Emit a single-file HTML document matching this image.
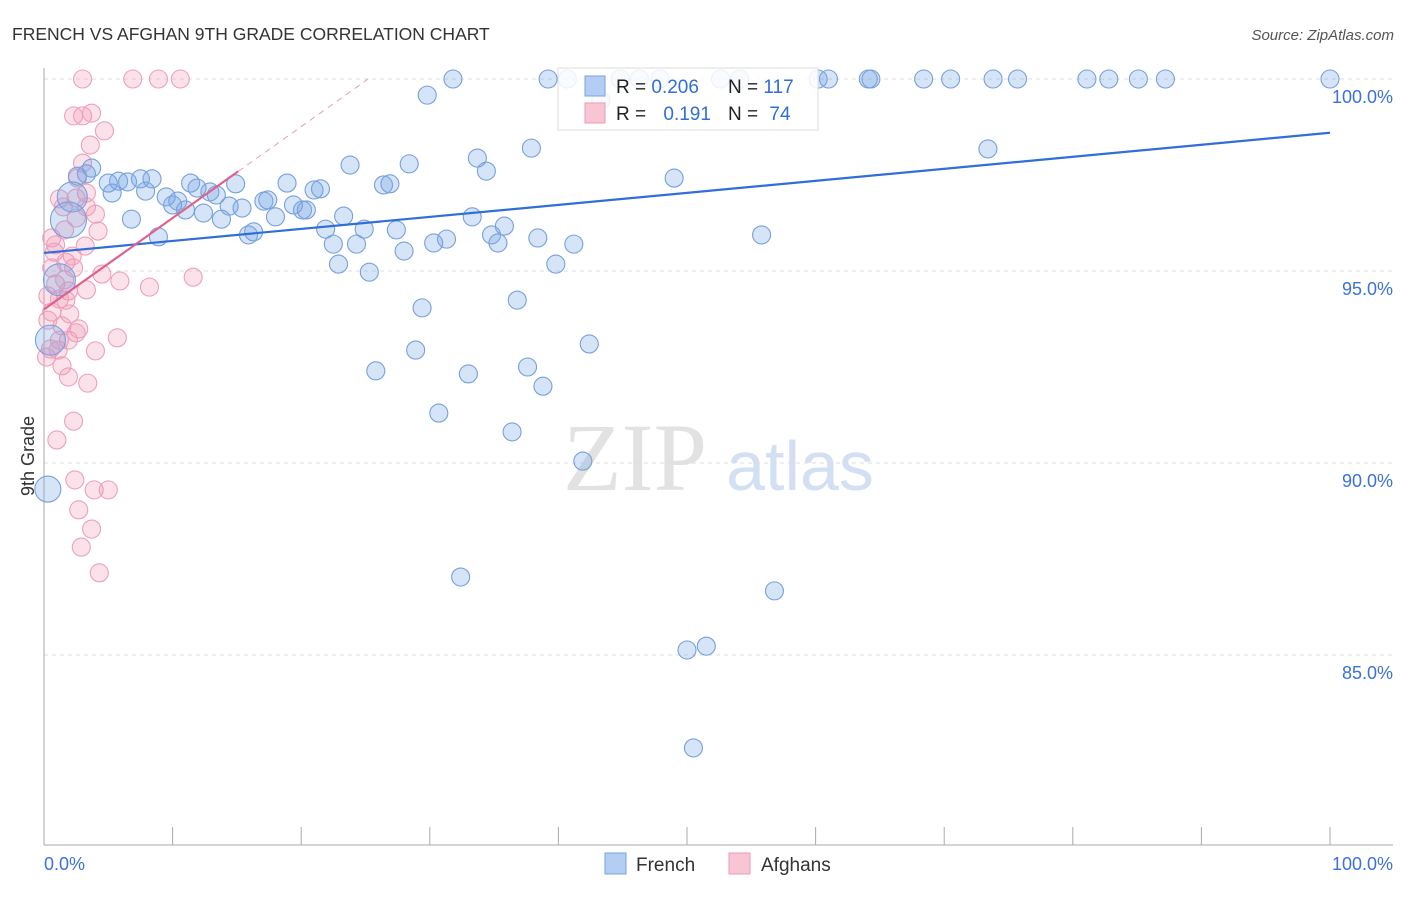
<!DOCTYPE html>
<html><head><meta charset="utf-8"><style>
body{margin:0;background:#fff;font-family:"Liberation Sans",sans-serif}
svg text{font-family:"Liberation Sans",sans-serif}
</style></head><body>
<svg id="chart" width="1406" height="892">
<text x="12" y="40" font-size="17.5" fill="#333">FRENCH VS AFGHAN 9TH GRADE CORRELATION CHART</text>
<text x="1394" y="40" font-size="15" fill="#555" text-anchor="end" font-style="italic">Source: ZipAtlas.com</text>
<g><text x="635" y="490" font-size="96" fill="#e2e2e2" text-anchor="middle" font-family="Liberation Serif" style="font-family:'Liberation Serif',serif">ZIP</text><text x="800" y="490" font-size="70" fill="#d3e0f4" text-anchor="middle">atlas</text></g>
<g id="grid"></g>
<g id="axes"></g>
<g id="afg"></g>
<g id="fr"></g>
<g id="lines"></g>
<text x="34" y="456" font-size="18" fill="#333" text-anchor="middle" transform="rotate(-90 34 456)">9th Grade</text>
<g>
<rect x="558" y="68" width="260" height="62" fill="#fff" fill-opacity="0.85" stroke="#ddd"/>
<rect x="585" y="76" width="20" height="20" fill="#b3cdf3" stroke="#7aa3e0"/>
<rect x="585" y="103" width="20" height="20" fill="#f8c5d5" stroke="#ec9ab5"/>
<text x="616" y="93" font-size="19" fill="#222">R = <tspan fill="#2f6fd6">0.206</tspan></text>
<text x="728" y="93" font-size="19" fill="#222">N = <tspan fill="#2f6fd6">117</tspan></text>
<text x="616" y="120" font-size="19" fill="#222">R = <tspan fill="#2f6fd6" dx="12">0.191</tspan></text>
<text x="728" y="120" font-size="19" fill="#222">N = <tspan fill="#2f6fd6" dx="6">74</tspan></text>
</g>
<g><rect x="605" y="853" width="21" height="21" fill="#b3cdf3" stroke="#7aa3e0"/><text x="636" y="871" font-size="19" fill="#333">French</text></g>
<g><rect x="729" y="853" width="21" height="21" fill="#f8c5d5" stroke="#ec9ab5"/><text x="761" y="871" font-size="19" fill="#333">Afghans</text></g>
</svg>
<script>
const yTicks=[100,95,90,85];
const yTickLabels=["100.0%","95.0%","90.0%","85.0%"];
const xTickLabels=["0.0%","100.0%"];
const frX=[31.8,39.2,40.7,44.8,46.3,47.9,52.6,54.1,60.2,61.0,64.1,64.3,68.4,70.5,73.8,75.7,81.1,82.8,85.1,87.2,100,42.8,29.8,43.3,37.9,73.4,33.7,23.8,28.4,3.7,3.3,2.6,34.4,49.0,8.4,5.8,6.5,7.5,5.0,11.4,14.9,18.9,26.4,26.9,11.9,21.0,21.5,7.9,5.3,12.9,9.5,13.4,10.4,10.0,14.4,17.1,17.4,19.4,20.1,20.4,15.4,12.4,11.0,6.8,18.0,13.8,23.3,33.3,35.8,21.9,24.9,27.4,34.8,8.9,15.9,16.3,31.3,38.4,30.3,22.5,24.3,35.3,41.2,55.8,28.0,22.9,39.8,25.3,36.8,29.4,42.4,28.9,37.6,25.8,33.0,38.8,30.7,36.4,41.9,32.4,56.8,50.0,51.5,50.5];
const frY=[100,100,100,100,100,100,100,100,100,100,100,100,100,100,100,100,100,100,100,100,100,99.84,99.58,99.45,98.2,98.18,97.94,97.76,97.79,97.68,97.53,97.47,97.6,97.42,97.4,97.34,97.32,97.4,97.29,97.29,97.27,97.29,97.24,97.27,97.16,97.11,97.14,97.08,97.03,97.06,96.93,96.98,96.82,96.72,96.69,96.82,96.85,96.72,96.59,96.59,96.64,96.51,96.59,96.35,96.41,96.35,96.43,96.41,96.17,96.09,96.09,96.07,95.94,95.89,95.94,96.02,95.83,95.86,95.73,95.7,95.7,95.73,95.7,95.94,95.52,95.18,95.18,94.97,94.24,94.04,93.1,92.94,92.5,92.4,92.32,92.0,91.3,90.81,90.05,87.03,86.67,85.13,85.23,82.58];
const frBigX=[1.9,2.2,1.2,0.5,0.3];
const frBigY=[96.33,96.93,94.77,93.2,89.32];
const frBigR=[18,15,16,15,13];
const afX=[3.0,6.9,8.9,10.6,2.3,3.0,3.7,4.7,3.6,3.0,2.6,3.3,2.5,1.2,1.5,3.3,4.0,2.5,4.2,1.6,0.6,0.9,3.2,0.8,1.7,0.6,2.3,4.5,5.9,8.2,11.6,0.9,1.9,3.3,0.3,1.2,0.6,2.0,2.7,1.4,5.7,1.9,1.2,0.5,2.5,4.0,0.2,1.4,1.9,3.4,2.3,1.0,2.4,3.9,5.0,2.7,3.7,2.9,4.3,0.3,1.7,2.2,1.1,1.6];
const afY=[100,100,100,100,99.04,99.04,99.11,98.65,98.28,97.81,97.42,97.03,96.9,96.88,96.67,96.67,96.48,96.38,96.04,96.07,95.86,95.68,95.65,95.49,95.23,95.08,95.08,94.92,94.74,94.58,94.84,94.66,94.48,94.51,94.35,94.27,93.93,93.88,93.49,93.57,93.26,93.2,93.2,92.97,93.39,92.92,92.76,92.53,92.24,92.08,91.09,90.6,89.56,89.3,89.3,88.78,88.28,87.81,87.14,93.72,94.24,95.39,92.94,94.77];
const frLine=[95.47,0.0313];
const afLine=[94.0,0.238];
const NS="http://www.w3.org/2000/svg";
const X0=44,X1=1330,Y100=79,PPY=38.4;
const sx=v=>X0+(X1-X0)*v/100;
const sy=v=>Y100+(100-v)*PPY;
function mk(tag,attrs,parent){const e=document.createElementNS(NS,tag);for(const k in attrs)e.setAttribute(k,attrs[k]);parent.appendChild(e);return e;}
const grid=document.getElementById('grid'),axes=document.getElementById('axes');
yTicks.forEach((t,i)=>{
 const l=mk('line',{x1:44,x2:1393,y1:sy(t),y2:sy(t),stroke:'#ddd','stroke-dasharray':'4,4'},grid);
 
 
 const tx=mk('text',{x:1393,y:sy(t)+24,'font-size':18,fill:'#3a72d8','text-anchor':'end'},axes);
 tx.textContent=yTickLabels[i];
 
 
});
mk('line',{x1:44,x2:44,y1:68,y2:845,stroke:'#aaa'},axes);
mk('line',{x1:44,x2:1393,y1:845,y2:845,stroke:'#aaa'},axes);
for(let i=1;i<=10;i++){const t=mk('line',{x1:sx(i*10),x2:sx(i*10),y1:827,y2:845,stroke:'#aaa'},axes);
 
 }
[[0,'start',44],[100,'end',1393]].forEach((d,i)=>{const t=mk('text',{x:d[2],y:870,'font-size':18,fill:'#3a72d8','text-anchor':d[1]},axes);t.textContent=xTickLabels[i];
 
 });
const afg=document.getElementById('afg'),fr=document.getElementById('fr');
afX.forEach((x,i)=>{const c=mk('circle',{cx:sx(x),cy:sy(afY[i]),r:9,fill:'rgba(242,150,180,0.28)',stroke:'#ee9fba','stroke-width':1.1},afg);
 
 });
frX.forEach((x,i)=>{const c=mk('circle',{cx:sx(x),cy:sy(frY[i]),r:9,fill:'rgba(120,165,230,0.3)',stroke:'#76a0de','stroke-width':1.1},fr);
 
 });
frBigX.forEach((x,i)=>{const c=mk('circle',{cx:sx(x),cy:sy(frBigY[i]),r:frBigR[i],fill:'rgba(120,165,230,0.3)',stroke:'#76a0de','stroke-width':1.1},fr);
 
 });
const lines=document.getElementById('lines');
const bl=mk('line',{x1:sx(0),y1:sy(frLine[0]),x2:sx(100),y2:sy(frLine[0]+100*frLine[1]),stroke:'#2f6fd6','stroke-width':2.2},lines);


const pl=mk('line',{x1:sx(0),y1:sy(afLine[0]),x2:sx(15.1),y2:sy(afLine[0]+15.1*afLine[1]),stroke:'#e0608e','stroke-width':2.2},lines);


const xe=(100-afLine[0])/afLine[1];
const pd=mk('line',{x1:sx(15.1),y1:sy(afLine[0]+15.1*afLine[1]),x2:sx(xe),y2:sy(100),stroke:'#eaa0b8','stroke-width':1,'stroke-dasharray':'6,5'},lines);


</script>
</body></html>
